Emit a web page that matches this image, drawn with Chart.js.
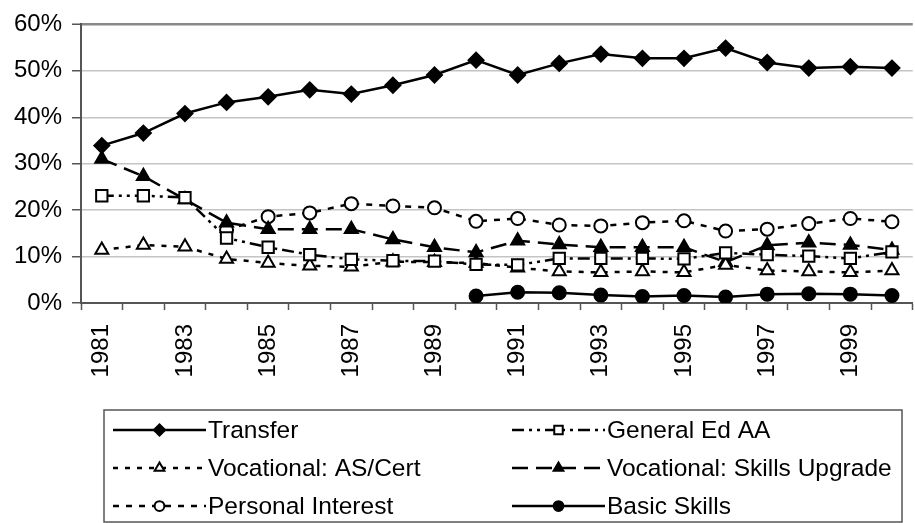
<!DOCTYPE html>
<html>
<head>
<meta charset="utf-8">
<title>Program goals 1981-2000</title>
<script src="https://cdn.jsdelivr.net/npm/chart.js@4/dist/chart.umd.min.js"></script>
<style>
    html, body { margin: 0; padding: 0; background: #fff; overflow: hidden; }
    #chart { display: block; }
</style>
</head>
<body>
<canvas id="chart" width="935" height="523"></canvas>
<script>
// Data (persen)
const years = ['1981','1982','1983','1984','1985','1986','1987','1988','1989','1990',
               '1991','1992','1993','1994','1995','1996','1997','1998','1999','2000'];
const shownYears = ['1981','1983','1985','1987','1989','1991','1993','1995','1997','1999'];
const yTicks = [0, 10, 20, 30, 40, 50, 60];

const transfer = [33.9, 36.6, 40.8, 43.2, 44.4, 45.9, 45.0, 46.9, 49.1, 52.3,
                  49.1, 51.6, 53.6, 52.7, 52.7, 54.9, 51.8, 50.6, 50.9, 50.6];
const generalEdAA = [23.1, 23.1, 22.7, 14.0, 12.0, 10.4, 9.4, 9.1, 9.0, 8.3,
                     8.2, 9.6, 9.6, 9.6, 9.5, 10.8, 10.4, 10.1, 9.6, 11.0];
const vocAsCert = [11.4, 12.5, 12.1, 9.5, 8.6, 8.0, 7.8, 8.9, 8.8, 8.6,
                   7.6, 6.8, 6.6, 6.8, 6.6, 8.2, 7.0, 6.8, 6.6, 7.0];
const skillsUpgrade = [31.0, 27.3, 22.3, 17.3, 15.9, 15.9, 15.9, 13.7, 12.0, 10.9,
                       13.4, 12.6, 12.0, 12.0, 12.0, 8.8, 12.4, 13.0, 12.5, 11.4];
const personalInterest = [null, null, null, 15.7, 18.6, 19.4, 21.4, 20.9, 20.5, 17.6,
                          18.2, 16.8, 16.6, 17.3, 17.7, 15.5, 15.9, 17.1, 18.2, 17.5];
const basicSkills = [null, null, null, null, null, null, null, null, null, 1.5,
                     2.3, 2.2, 1.7, 1.4, 1.6, 1.3, 1.9, 2.0, 1.9, 1.6];

const FONT = "'Liberation Sans', Arial, sans-serif";

// Bikin satu dataset garis dengan gaya marker ala Excel
function seri(label, data, opsi) {
    return Object.assign({
        label: label,
        data: data,
        borderColor: '#000',
        borderWidth: 2.5,
        pointBorderColor: '#000',
        pointBorderWidth: 2,
        pointBackgroundColor: '#fff',
        pointRadius: 7,
        pointHoverRadius: 7,
        tension: 0,
        spanGaps: false
    }, opsi);
}

const datasets = [
    seri('Transfer', transfer, { pointStyle: 'rectRot', pointRadius: 7.5, pointBackgroundColor: '#000' }),
    seri('General Ed AA', generalEdAA, { borderDash: [12, 5, 3, 5, 3, 5], pointStyle: 'rect', pointRadius: 8 }),
    seri('Vocational: AS/Cert', vocAsCert, { borderDash: [5, 7], pointStyle: 'triangle', pointRadius: 7.5 }),
    seri('Vocational: Skills Upgrade', skillsUpgrade, { borderDash: [16, 8], pointStyle: 'triangle', pointRadius: 7.5, pointBackgroundColor: '#000' }),
    seri('Personal Interest', personalInterest, { borderDash: [6, 7], pointStyle: 'circle', pointRadius: 6.5 }),
    seri('Basic Skills', basicSkills, { pointStyle: 'circle', pointRadius: 6.5, pointBackgroundColor: '#000' })
];

// Legend kotak di bawah grafik, 2 kolom x 3 baris
const legendBox = {
    id: 'legendBox',
    afterDraw(chart) {
        const ctx = chart.ctx;
        const box = { left: 104, top: 410, right: 902, bottom: 522 };
        const kolom = [113, 512];
        const baris = [430, 468, 506];
        const panjangGaris = 93;

        ctx.save();
        ctx.strokeStyle = '#555';
        ctx.lineWidth = 1.5;
        ctx.strokeRect(box.left, box.top, box.right - box.left, box.bottom - box.top);

        chart.data.datasets.forEach((ds, i) => {
            const x = kolom[i % 2];
            const y = baris[Math.floor(i / 2)];

            ctx.strokeStyle = '#000';
            ctx.lineWidth = ds.borderWidth;
            ctx.setLineDash(ds.borderDash || []);
            ctx.beginPath();
            ctx.moveTo(x, y);
            ctx.lineTo(x + panjangGaris, y);
            ctx.stroke();
            ctx.setLineDash([]);

            ctx.fillStyle = ds.pointBackgroundColor;
            ctx.strokeStyle = '#000';
            ctx.lineWidth = 2;
            Chart.helpers.drawPoint(ctx, {
                pointStyle: ds.pointStyle,
                radius: ds.pointRadius * 0.75,
                rotation: 0,
                borderWidth: 2
            }, x + panjangGaris / 2, y);

            ctx.fillStyle = '#000';
            ctx.font = '24.5px ' + FONT;
            ctx.textAlign = 'left';
            ctx.textBaseline = 'middle';
            ctx.fillText(ds.label, x + panjangGaris + 2, y + 1);
        });
        ctx.restore();
    }
};

const ctx = document.getElementById('chart').getContext('2d');

new Chart(ctx, {
    type: 'line',
    data: { labels: years, datasets: datasets },
    options: {
        responsive: false,
        animation: false,
        devicePixelRatio: 1,
        layout: { padding: { top: 23, right: 8, bottom: 140, left: 0 } },
        plugins: {
            legend: { display: false },
            tooltip: { enabled: false }
        },
        scales: {
            x: {
                type: 'category',
                offset: true,
                afterFit: (scale) => { scale.height = 80; },
                grid: {
                    offset: true,
                    drawOnChartArea: false,
                    drawTicks: true,
                    tickLength: 7,
                    tickColor: '#555',
                    tickWidth: 1.5
                },
                border: { color: '#555', width: 2 },
                ticks: {
                    autoSkip: false,
                    minRotation: 90,
                    maxRotation: 90,
                    padding: 14,
                    color: '#000',
                    font: { family: FONT, size: 24 },
                    callback: (val, idx) => shownYears.includes(years[idx]) ? years[idx] : ''
                }
            },
            y: {
                min: 0,
                max: 60,
                afterFit: (scale) => { scale.width = 81; },
                afterBuildTicks: (scale) => { scale.ticks = yTicks.map(v => ({ value: v })); },
                grid: {
                    color: (c) => c.tick && c.tick.value === 60 ? '#888' : '#c4c4c4',
                    lineWidth: (c) => c.tick && c.tick.value === 60 ? 2.5 : 1.5,
                    tickLength: 9,
                    tickColor: '#555',
                    tickWidth: 1.5
                },
                border: { color: '#555', width: 2 },
                ticks: {
                    padding: 10,
                    color: '#000',
                    font: { family: FONT, size: 24 },
                    callback: (val) => val + '%'
                }
            }
        }
    },
    plugins: [legendBox]
});
</script>
</body>
</html>
